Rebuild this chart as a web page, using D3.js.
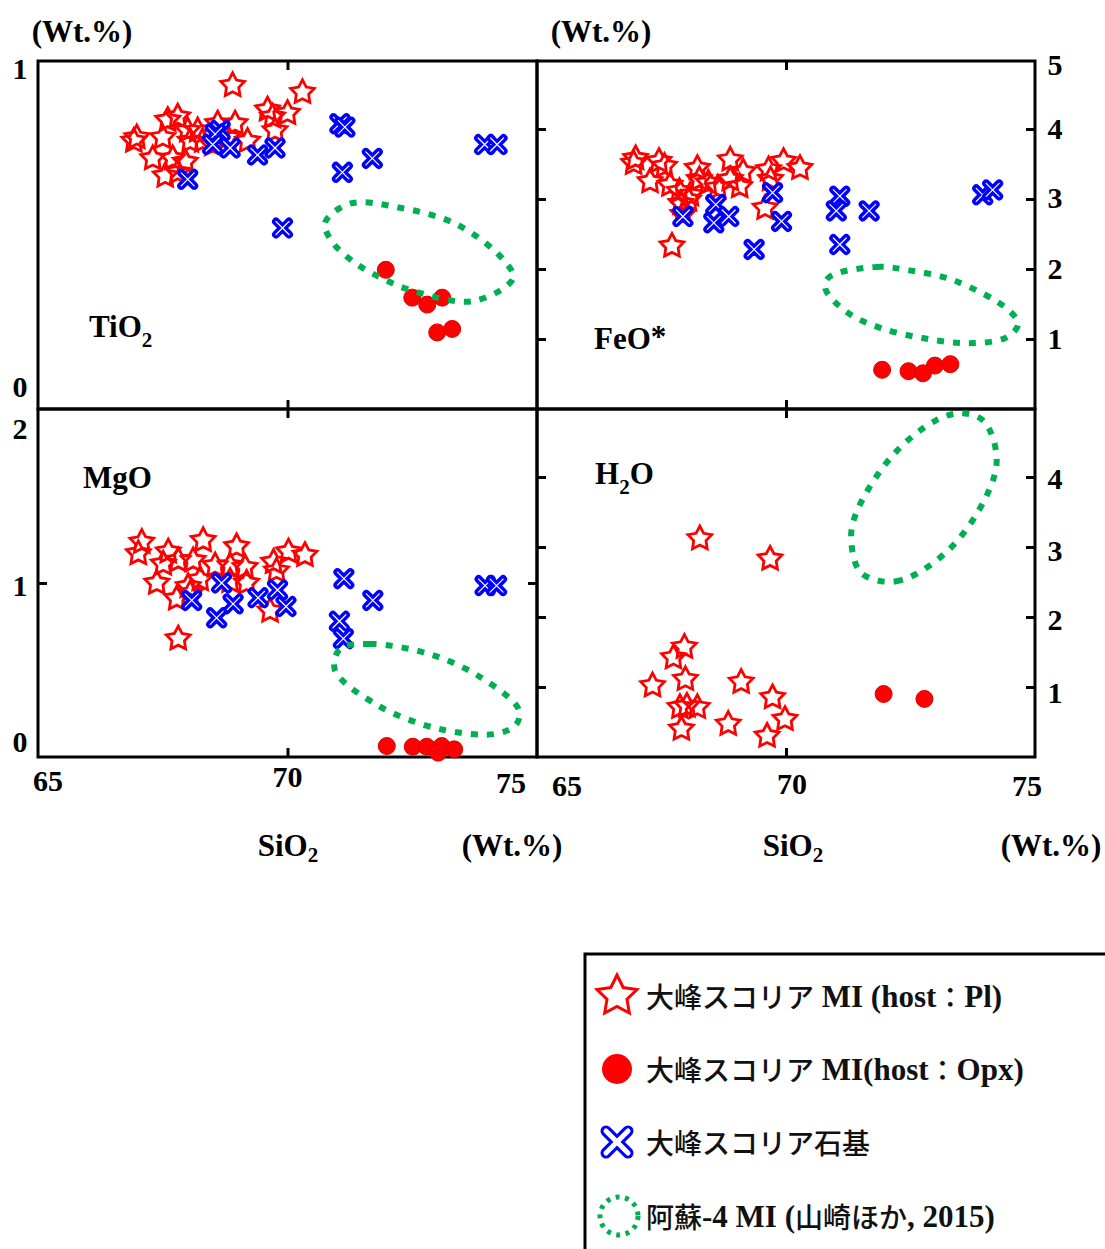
<!DOCTYPE html>
<html>
<head>
<meta charset="utf-8">
<script src="https://cdn.jsdelivr.net/npm/d3@7"></script>
<style>
  body { margin: 0; background: #fff; }
  svg { display: block; }
</style>
</head>
<body>
<div id="chart"></div>
<script>
// [SiO2, oxide] pairs (Wt.%)
const tio2Pl = [[66.98, 0.78], [66.92, 0.77], [67.5, 0.78], [67.6, 0.83], [67.8, 0.84], [68.0, 0.8], [68.2, 0.8], [68.6, 0.82], [68.95, 0.82], [69.2, 0.77], [68.5, 0.76], [67.3, 0.72], [67.7, 0.72], [67.95, 0.71], [67.55, 0.67], [67.8, 0.68], [68.3, 0.77], [68.9, 0.93], [70.3, 0.91], [69.6, 0.86], [70.0, 0.85], [69.7, 0.84], [69.75, 0.8], [68.05, 0.77], [68.8, 0.78]]
const tio2Opx = [[71.97, 0.4], [72.5, 0.32], [72.8, 0.3], [73.1, 0.32], [73.0, 0.22], [73.3, 0.23]]
const tio2Gm = [[68.65, 0.8], [68.55, 0.79], [68.5, 0.76], [68.85, 0.75], [69.4, 0.73], [69.75, 0.75], [68.0, 0.66], [71.05, 0.82], [71.15, 0.81], [71.1, 0.68], [71.7, 0.72], [69.9, 0.52], [73.95, 0.76], [74.2, 0.76]]
const tio2Aso = [[70.75, 0.535], [71.25, 0.59], [72.2, 0.58], [73.4, 0.53], [74.32, 0.43], [74.52, 0.376], [73.72, 0.31], [72.5, 0.34], [71.89, 0.376], [71.35, 0.42], [70.9, 0.48]]

const feoPl = [[66.98, 3.58], [66.94, 3.51], [67.45, 3.54], [67.56, 3.47], [67.27, 3.25], [67.67, 3.2], [67.86, 3.11], [67.89, 2.94], [67.93, 2.78], [68.08, 3.06], [68.22, 3.44], [68.26, 3.28], [68.44, 3.23], [68.63, 3.16], [68.88, 3.56], [68.88, 3.28], [69.07, 3.18], [69.14, 3.39], [69.65, 3.42], [69.69, 3.28], [69.95, 3.54], [70.28, 3.44], [69.58, 2.87], [67.71, 2.33], [68.04, 2.99]]
const feoOpx = [[71.93, 0.56], [72.46, 0.54], [72.75, 0.51], [72.99, 0.62], [73.3, 0.64]]
const feoGm = [[67.93, 2.75], [68.59, 2.92], [68.55, 2.66], [68.85, 2.75], [69.73, 3.09], [69.91, 2.68], [69.36, 2.28], [71.08, 3.04], [71.01, 2.83], [71.67, 2.83], [71.08, 2.35], [73.95, 3.06], [74.15, 3.13]]
const feoAso = [[70.86, 1.88], [71.82, 2.03], [72.48, 1.98], [73.36, 1.84], [74.46, 1.42], [74.66, 1.21], [74.42, 1.02], [73.65, 0.94], [72.77, 1.01], [71.89, 1.16], [71.23, 1.38], [70.79, 1.72]]

const mgoPl = [[67.08, 1.235], [67.01, 1.17], [67.61, 1.18], [67.51, 1.11], [67.81, 1.13], [68.11, 1.13], [68.31, 1.245], [68.55, 1.1], [68.85, 1.1], [68.98, 1.21], [69.15, 1.09], [69.18, 1.0], [69.72, 1.12], [69.78, 1.07], [70.02, 1.18], [70.35, 1.16], [67.38, 1.0], [67.78, 0.91], [68.01, 0.98], [68.05, 0.94], [69.65, 0.84], [67.81, 0.68], [68.85, 1.01], [68.25, 1.02]]
const mgoOpx = [[71.99, 0.063], [72.51, 0.059], [72.79, 0.059], [73.09, 0.063], [73.02, 0.025], [73.34, 0.044]]
const mgoGm = [[68.08, 0.9], [68.68, 1.0], [68.91, 0.88], [68.58, 0.8], [69.41, 0.915], [69.8, 0.96], [69.97, 0.865], [71.13, 1.025], [71.71, 0.9], [71.04, 0.78], [71.12, 0.68], [73.96, 0.985], [74.19, 0.985]]
const mgoAso = [[71.05, 0.62], [71.65, 0.65], [72.86, 0.59], [73.86, 0.46], [74.63, 0.275], [74.59, 0.19], [74.19, 0.134], [73.06, 0.16], [71.79, 0.3], [70.95, 0.5]]

const h2oPl = [[68.27, 3.12], [69.68, 2.83], [67.96, 1.57], [67.74, 1.42], [67.98, 1.11], [67.32, 1.02], [69.1, 1.07], [69.73, 0.85], [67.87, 0.71], [68.01, 0.73], [68.22, 0.71], [69.98, 0.54], [68.84, 0.47], [67.9, 0.4], [69.62, 0.3]]
const h2oOpx = [[71.96, 0.9], [72.78, 0.83]]
const h2oGm = []
const h2oAso = [[71.51, 2.63], [72.21, 2.51], [73.24, 2.94], [74.04, 3.75], [74.23, 4.28], [73.97, 4.8], [73.53, 4.91], [73.01, 4.81], [72.13, 4.3], [71.4, 3.47], [71.31, 3.09]]

const xDomain = [65, 75]
const xTickLabels = ['65', '70', '75']

const legendLabels = [
  [['jp', '大峰スコリア'], ['en', ' MI (host'], ['jp', '：'], ['en', 'Pl)']],
  [['jp', '大峰スコリア'], ['en', ' MI(host'], ['jp', '：'], ['en', 'Opx)']],
  [['jp', '大峰スコリア石基']],
  [['jp', '阿蘇'], ['en', '-4 MI ('], ['jp', '山崎ほか'], ['en', ', 2015)']]
]

const RED = '#ff0000'
const BLUE = '#0000ff'
const GREEN = '#00b050'
const SERIF = "'Liberation Serif', 'DejaVu Serif', serif"
const JP = "'Noto Sans CJK JP', sans-serif"

const svg = d3.select('#chart').append('svg').attr('width', 1105).attr('height', 1249)

const panels = [
  { name: ['TiO', '2', ''], pl: tio2Pl, opx: tio2Opx, gm: tio2Gm, aso: tio2Aso,
    left: 38, right: 537, top: 61, bottom: 409, yDomain: [0, 1], yRange: [409, 61],
    yTicks: [], leftLabels: [[1, 7], [0, -23]], rightLabels: [], nameAt: [89, 337], xLabels: null },
  { name: ['FeO', '', '*'], pl: feoPl, opx: feoOpx, gm: feoGm, aso: feoAso,
    left: 537, right: 1035, top: 61, bottom: 409, yDomain: [0, 5], yRange: [409, 59],
    yTicks: [1, 2, 3, 4], leftLabels: [], rightLabels: [[5, 5], [4, -1], [3, -2], [2, -1], [1, -1]], nameAt: [594, 349], xLabels: null },
  { name: ['MgO', '', ''], pl: mgoPl, opx: mgoOpx, gm: mgoGm, aso: mgoAso,
    left: 38, right: 537, top: 409, bottom: 757, yDomain: [0, 2], yRange: [757, 409],
    yTicks: [1], leftLabels: [[2, 19], [1, 2], [0, -16]], rightLabels: [], nameAt: [83, 488],
    xLabels: { dx: [10, 0, -26], y: [780, 776, 782] } },
  { name: ['H', '2', 'O'], pl: h2oPl, opx: h2oOpx, gm: h2oGm, aso: h2oAso,
    left: 537, right: 1035, top: 409, bottom: 757, yDomain: [0, 5], yRange: [757, 407],
    yTicks: [1, 2, 3, 4], leftLabels: [], rightLabels: [[4, 1], [3, 3], [2, 2], [1, 5]], nameAt: [595, 484],
    xLabels: { dx: [30, 6, -8], y: [785, 783, 785] } }
]

function starPath(R, r) {
  const pts = d3.range(10).map((i) => {
    const a = (i * Math.PI) / 5
    const rad = i % 2 ? r : R
    return [rad * Math.sin(a), -rad * Math.cos(a)]
  })
  return d3.line().curve(d3.curveLinearClosed)(pts)
}

function drawCross(g, size, outer, inner) {
  const d = `M${-size},${-size}L${size},${size}M${-size},${size}L${size},${-size}`
  g.append('path').attr('d', d).attr('stroke', BLUE).attr('stroke-width', outer).attr('stroke-linecap', 'round').attr('fill', 'none')
  g.append('path').attr('d', d).attr('stroke', '#fff').attr('stroke-width', inner).attr('stroke-linecap', 'round').attr('fill', 'none')
}

const STAR = starPath(12.5, 6.5)

panels.forEach((p) => {
  const x = d3.scaleLinear().domain(xDomain).range([p.left, p.right])
  const y = d3.scaleLinear().domain(p.yDomain).range(p.yRange)
  const g = svg.append('g')

  // inward ticks
  const tickStyle = (sel) => {
    sel.select('.domain').remove()
    sel.selectAll('line').attr('stroke', '#000').attr('stroke-width', 3)
  }
  g.append('g').attr('transform', `translate(0,${p.top})`)
    .call(d3.axisTop(x).tickValues([70]).tickSize(-9).tickFormat('')).call(tickStyle)
  g.append('g').attr('transform', `translate(0,${p.bottom})`)
    .call(d3.axisBottom(x).tickValues([70]).tickSize(-9).tickFormat('')).call(tickStyle)
  g.append('g').attr('transform', `translate(${p.left},0)`)
    .call(d3.axisLeft(y).tickValues(p.yTicks).tickSize(-9).tickFormat('')).call(tickStyle)
  g.append('g').attr('transform', `translate(${p.right},0)`)
    .call(d3.axisRight(y).tickValues(p.yTicks).tickSize(-9).tickFormat('')).call(tickStyle)

  // frame
  g.append('rect')
    .attr('x', p.left).attr('y', p.top)
    .attr('width', p.right - p.left).attr('height', p.bottom - p.top)
    .attr('fill', 'none').attr('stroke', '#000').attr('stroke-width', 3)

  // tick labels
  const lab = (sel) => sel.attr('dominant-baseline', 'central').attr('text-anchor', 'middle')
    .attr('font-family', SERIF).attr('font-weight', 'bold').attr('font-size', 30)
  g.selectAll('.ll').data(p.leftLabels).join('text')
    .attr('x', 20).attr('y', (d) => y(d[0]) + d[1]).call(lab).text((d) => d[0])
  g.selectAll('.rl').data(p.rightLabels).join('text')
    .attr('x', 1055).attr('y', (d) => y(d[0]) + d[1]).call(lab).text((d) => d[0])
  if (p.xLabels) {
    g.selectAll('.xl').data(xTickLabels).join('text')
      .attr('x', (d, i) => x(+d) + p.xLabels.dx[i]).attr('y', (d, i) => p.xLabels.y[i])
      .call(lab).text((d) => d)
  }

  // oxide name
  const t = g.append('text').attr('x', p.nameAt[0]).attr('y', p.nameAt[1])
    .attr('font-family', SERIF).attr('font-weight', 'bold').attr('font-size', 31)
  t.append('tspan').text(p.name[0])
  if (p.name[1]) t.append('tspan').attr('font-size', 21).attr('dy', 10).text(p.name[1])
  if (p.name[2]) t.append('tspan').attr('dy', p.name[1] ? -10 : -2).text(p.name[2])

  // stars (host Pl)
  g.selectAll('.star').data(p.pl).join('path')
    .attr('d', STAR)
    .attr('transform', (d) => `translate(${x(d[0])},${y(d[1])})`)
    .attr('fill', 'none').attr('stroke', RED).attr('stroke-width', 2.8).attr('stroke-linejoin', 'miter')

  // groundmass crosses
  p.gm.forEach((d) => {
    drawCross(g.append('g').attr('transform', `translate(${x(d[0])},${y(d[1])})`), 6.5, 8, 1.2)
  })

  // host Opx circles
  g.selectAll('.opx').data(p.opx).join('circle')
    .attr('cx', (d) => x(d[0])).attr('cy', (d) => y(d[1])).attr('r', 8.5)
    .attr('fill', RED).attr('stroke', '#e00000').attr('stroke-width', 1)

  // Aso-4 field
  g.append('path')
    .datum(p.aso)
    .attr('d', d3.line().x((d) => x(d[0])).y((d) => y(d[1])).curve(d3.curveCatmullRomClosed.alpha(0.5)))
    .attr('fill', 'none').attr('stroke', GREEN).attr('stroke-width', 6).attr('stroke-dasharray', '7,9')
})

// unit labels
const unit = [[82, 31], [601, 31], [512, 845], [1051, 845]]
svg.selectAll('.unit').data(unit).join('text')
  .attr('x', (d) => d[0]).attr('y', (d) => d[1])
  .attr('dominant-baseline', 'central').attr('text-anchor', 'middle')
  .attr('font-family', SERIF).attr('font-weight', 'bold').attr('font-size', 31).text('(Wt.%)')

const siLabel = [[288, 845], [793, 845]]
siLabel.forEach((d) => {
  const t = svg.append('text').attr('x', d[0]).attr('y', d[1]).attr('dominant-baseline', 'central')
    .attr('text-anchor', 'middle').attr('font-family', SERIF).attr('font-weight', 'bold').attr('font-size', 31)
  t.append('tspan').text('SiO')
  t.append('tspan').attr('font-size', 21).attr('dy', 10).text('2')
})

// legend
const lg = svg.append('g')
lg.append('rect').attr('x', 585).attr('y', 954).attr('width', 540).attr('height', 320)
  .attr('fill', '#fff').attr('stroke', '#000').attr('stroke-width', 3)

const rowY = [996, 1069, 1142, 1216]
lg.append('path').attr('d', starPath(21, 10.5)).attr('transform', `translate(617,${rowY[0]})`)
  .attr('fill', 'none').attr('stroke', RED).attr('stroke-width', 3)
lg.append('circle').attr('cx', 617).attr('cy', rowY[1]).attr('r', 15).attr('fill', RED)
drawCross(lg.append('g').attr('transform', `translate(617,${rowY[2]})`), 11, 11, 5)
lg.append('circle').attr('cx', 619).attr('cy', rowY[3]).attr('r', 19)
  .attr('fill', 'none').attr('stroke', GREEN).attr('stroke-width', 5).attr('stroke-dasharray', '4,5.5')

legendLabels.forEach((parts, i) => {
  const t = lg.append('text').attr('x', 646).attr('y', rowY[i]).attr('dominant-baseline', 'central')
    .attr('fill', '#111')
  parts.forEach((s) => {
    t.append('tspan')
      .attr('font-family', s[0] === 'jp' ? JP : SERIF)
      .attr('font-weight', s[0] === 'jp' ? 500 : 'bold')
      .attr('font-size', s[0] === 'jp' ? 28 : 31)
      .text(s[1])
  })
})
</script>
</body>
</html>
